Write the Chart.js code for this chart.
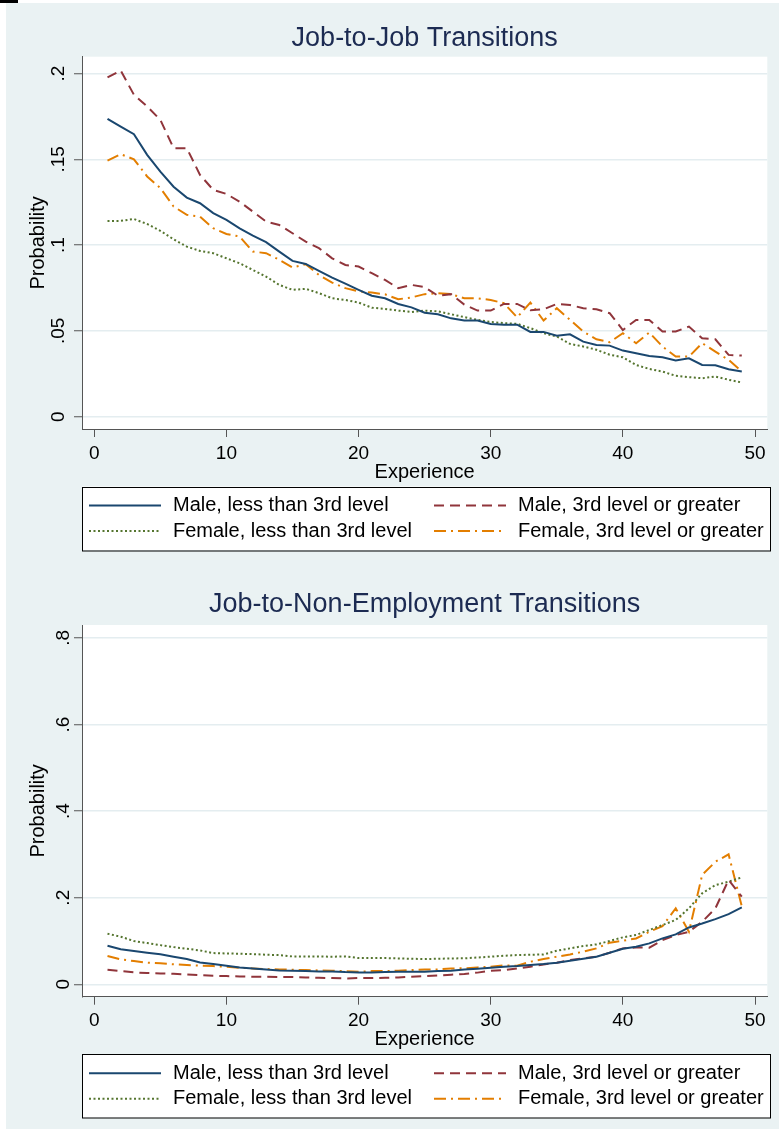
<!DOCTYPE html>
<html>
<head>
<meta charset="utf-8">
<title>Transitions by Experience</title>
<script src="https://cdn.jsdelivr.net/npm/chart.js@4.4.1/dist/chart.umd.min.js"></script>
<style>
  html, body { margin: 0; padding: 0; background: #fff; }
  body { width: 779px; height: 1130px; position: relative; overflow: hidden; }
  #panel { position: absolute; left: 6px; top: 3px; width: 773px; height: 1126px; background: #eaf2f3; }
  #cut { position: absolute; left: 0; top: 0; width: 18px; height: 3px; background: #000; }
  canvas { position: absolute; left: 0; }
  #jobChart { top: 0; }
  #nonEmpChart { top: 565px; }
</style>
</head>
<body>
<div id="panel"></div>
<div id="cut"></div>
<canvas id="jobChart" width="779" height="565"></canvas>
<canvas id="nonEmpChart" width="779" height="565"></canvas>

<script>
// years of experience (x values)
const experience = [1,2,3,4,5,6,7,8,9,10,11,12,13,14,15,16,17,18,19,20,21,22,23,24,25,
  26,27,28,29,30,31,32,33,34,35,36,37,38,39,40,41,42,43,44,45,46,47,48,49];

const seriesNames = ['Male, less than 3rd level', 'Male, 3rd level or greater',
  'Female, less than 3rd level', 'Female, 3rd level or greater'];

// job-to-job transition probabilities
const maleLowJJ = [.1736,.169,.1646,.1526,.1428,.134,.1277,.1244,.1186,.1147,.1098,.1055,.1017,.0962,.0908,
  .089,.085,.081,.0775,.0739,.0705,.069,.0657,.0637,.0606,.0597,.0573,.056,.056,.054,.0536,.0536,.0494,.0494,
  .0472,.048,.0437,.0418,.0414,.0385,.037,.0354,.0346,.0327,.034,.0301,.03,.0276,.0263];
const maleHighJJ = [.1977,.2017,.1876,.1808,.173,.1565,.1565,.1409,.1322,.1298,.1253,.1195,.1137,.1117,.1069,
  .102,.0982,.0923,.0884,.0875,.0836,.0797,.0749,.0768,.0755,.0705,.0714,.0653,.0618,.0618,.0657,.0657,.062,
  .0626,.0657,.0651,.0632,.0626,.0603,.0505,.0564,.0564,.0496,.0496,.0525,.0457,.0451,.036,.0356];
const femaleLowJJ = [.1141,.1141,.1152,.1123,.1083,.1034,.0991,.0966,.0953,.0923,.0894,.0855,.0816,.0768,.0739,
  .0745,.072,.069,.068,.0665,.0635,.0628,.0618,.061,.0618,.0614,.0597,.058,.0564,.0552,.0545,.0541,.0516,.0486,
  .0467,.0424,.0409,.039,.0361,.0346,.0301,.0278,.0263,.0238,.023,.0224,.0234,.0215,.0199];
const femaleHighJJ = [.1492,.153,.150,.140,.1332,.1225,.1176,.1166,.1098,.1065,.105,.0962,.0953,.0914,.0869,
  .0888,.0826,.0781,.0749,.073,.0723,.0713,.0684,.0695,.0714,.0719,.0714,.069,.069,.068,.0661,.0579,.0665,.056,
  .0632,.0564,.0496,.0451,.0434,.0486,.0428,.049,.0409,.035,.035,.0428,.0379,.0331,.0263];

// job-to-non-employment transition probabilities
const maleLowJN = [.0891,.0808,.0769,.073,.0692,.0637,.0583,.0506,.0467,.0429,.039,.0367,.0344,.032,.0313,
  .0305,.0298,.0298,.0283,.0275,.0275,.0283,.029,.029,.029,.0305,.0313,.034,.036,.0384,.0407,.0422,.0445,.0468,
  .0499,.0545,.0591,.0638,.073,.0822,.0868,.0945,.106,.1152,.1314,.1406,.1506,.1622,.1776];
const maleHighJN = [.0337,.0306,.0275,.026,.0252,.0244,.0229,.0213,.0198,.019,.0182,.0175,.0175,.0167,.0167,
  .0159,.0152,.0144,.0136,.0144,.0144,.0152,.0159,.0175,.019,.0205,.0221,.024,.027,.0314,.033,.0368,.0407,.046,
  .05,.056,.06,.0638,.073,.083,.0853,.0845,.1022,.1137,.1214,.1445,.1753,.241,.2024];
const femaleLowJN = [.1169,.110,.100,.0952,.0905,.0859,.0821,.0783,.0721,.0713,.0706,.0698,.0683,.0675,.0644,
  .0644,.0644,.0637,.0644,.0606,.0606,.0606,.0598,.059,.0583,.059,.0598,.060,.062,.0638,.066,.0675,.0683,.069,
  .0775,.083,.0884,.0922,.1,.1085,.114,.1255,.137,.1486,.1756,.2102,.229,.237,.247];
const femaleHighJN = [.0654,.0577,.0538,.05,.0485,.0462,.0446,.0429,.0421,.0406,.0383,.0367,.0352,.0344,.0336,
  .0329,.032,.0313,.0305,.029,.0305,.0305,.0313,.0329,.0344,.0344,.0367,.037,.039,.0407,.0438,.043,.0522,.0584,
  .0638,.069,.0753,.083,.0961,.1007,.106,.1214,.1345,.1756,.1214,.2525,.283,.3001,.18];

// tick labels
const xTicks = [0, 10, 20, 30, 40, 50];
const yTicksJJ = [0, .05, .1, .15, .2];
const yLabelsJJ = ['0', '.05', '.1', '.15', '.2'];
const yTicksJN = [0, .2, .4, .6, .8];
const yLabelsJN = ['0', '.2', '.4', '.6', '.8'];

const lineColors = ['#1a476f', '#90353b', '#55752f', '#e37e00'];
const lineDashes = [[], [10, 6], [2, 2.5], [12, 5, 2, 5]];

Chart.defaults.font.family = '"Liberation Sans", Arial, Helvetica, sans-serif';
Chart.defaults.color = '#000';

// white plot region
const plotBackground = {
  id: 'plotBackground',
  beforeDraw(chart) {
    const a = chart.chartArea;
    const ctx = chart.ctx;
    ctx.save();
    ctx.fillStyle = '#fff';
    ctx.fillRect(a.left, a.top, a.right - a.left, a.bottom - a.top);
    ctx.restore();
  }
};

// boxed two-column legend under the x axis title
const boxLegend = {
  id: 'boxLegend',
  afterDraw(chart) {
    const a = chart.chartArea;
    const ctx = chart.ctx;
    const top = a.bottom + 57.5, bottom = a.bottom + 121;
    const left = a.left, right = 770;
    const cols = [89, 434];
    const rows = [a.bottom + 76.5, a.bottom + 102];
    ctx.save();
    ctx.fillStyle = '#fff';
    ctx.fillRect(left, top, right - left, bottom - top);
    ctx.strokeStyle = '#000';
    ctx.lineWidth = 1;
    ctx.strokeRect(Math.round(left) + 0.5, Math.round(top) + 0.5, right - left, bottom - top);
    chart.data.datasets.forEach(function(ds, i) {
      const x = cols[i % 2], y = rows[Math.floor(i / 2)];
      ctx.strokeStyle = ds.borderColor;
      ctx.lineWidth = 2;
      ctx.setLineDash(ds.borderDash);
      ctx.beginPath();
      ctx.moveTo(x, y);
      ctx.lineTo(x + 72, y);
      ctx.stroke();
      ctx.setLineDash([]);
      ctx.fillStyle = '#000';
      ctx.font = '20px "Liberation Sans", Arial, sans-serif';
      ctx.textBaseline = 'middle';
      ctx.fillText(ds.label, x + 84, y);
    });
    ctx.restore();
  }
};

// build one panel
function createChart(id, title, series, yTicks, yLabels, yMin, yMax, titlePad, bottomPad) {
  const ctx = document.getElementById(id).getContext('2d');
  const datasets = series.map(function(values, i) {
    return {
      label: seriesNames[i],
      data: experience.map(function(x, j) { return {x: x, y: values[j]}; }),
      borderColor: lineColors[i],
      backgroundColor: lineColors[i],
      borderDash: lineDashes[i],
      borderWidth: 2,
      pointRadius: 0,
      tension: 0,
      fill: false
    };
  });
  return new Chart(ctx, {
    type: 'line',
    data: { datasets: datasets },
    options: {
      responsive: false,
      animation: false,
      layout: { padding: { left: 0, right: 11.7, top: 0, bottom: bottomPad } },
      plugins: {
        legend: { display: false },
        tooltip: { enabled: false },
        title: {
          display: true,
          text: title,
          fullSize: false,
          color: '#1c2b52',
          font: { size: 27, weight: 'normal', lineHeight: 1 },
          padding: titlePad
        }
      },
      scales: {
        x: {
          type: 'linear',
          min: -0.93,
          max: 50.93,
          afterBuildTicks: function(scale) { scale.ticks = xTicks.map(function(v) { return {value: v}; }); },
          afterFit: function(scale) { scale.height = 55; },
          ticks: { font: { size: 19, lineHeight: 1.2 }, color: '#000', padding: 5, maxRotation: 0 },
          grid: { drawOnChartArea: false, drawTicks: true, tickLength: 8, tickColor: '#555', tickWidth: 1 },
          border: { display: true, color: '#555', width: 1 },
          title: { display: true, text: 'Experience', color: '#000', font: { size: 20, lineHeight: 1.2 }, padding: { top: 0, bottom: 0 } }
        },
        y: {
          min: yMin,
          max: yMax,
          afterBuildTicks: function(scale) { scale.ticks = yTicks.map(function(v) { return {value: v}; }); },
          afterFit: function(scale) { scale.width = 82; },
          ticks: {
            font: { size: 19, lineHeight: 1.2 },
            color: '#000',
            minRotation: 90,
            maxRotation: 90,
            crossAlign: 'center',
            padding: 2,
            callback: function(v) { return yLabels[yTicks.indexOf(v)]; }
          },
          grid: { color: '#e4edf0', lineWidth: 1.5, drawTicks: true, tickLength: 8, tickColor: '#555', tickWidth: 1 },
          border: { display: true, color: '#555', width: 1 },
          title: { display: true, text: 'Probability', color: '#000', font: { size: 20, lineHeight: 1.2 }, padding: { top: 26, bottom: 0 } }
        }
      }
    },
    plugins: [plotBackground, boxLegend]
  });
}

createChart('jobChart', 'Job-to-Job Transitions',
  [maleLowJJ, maleHighJJ, femaleLowJJ, femaleHighJJ],
  yTicksJJ, yLabelsJJ, -0.0072, 0.2098, { top: 24.8, bottom: 4.9 }, 81);

createChart('nonEmpChart', 'Job-to-Non-Employment Transitions',
  [maleLowJN, maleHighJN, femaleLowJN, femaleHighJN],
  yTicksJN, yLabelsJN, -0.0286, 0.8298, { top: 26.4, bottom: 6.6 }, 78.3);
</script>
</body>
</html>
